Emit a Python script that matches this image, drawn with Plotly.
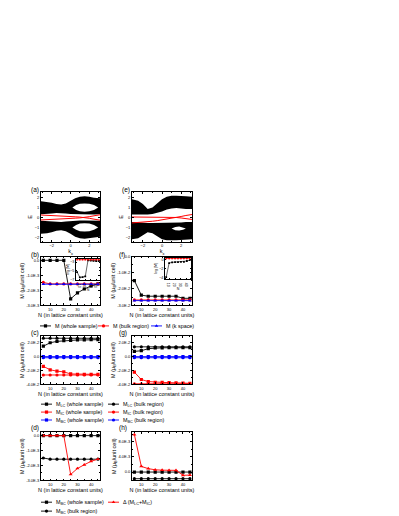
import plotly.graph_objects as go

W, H = 399, 516
FONT = "Liberation Sans, Arial, sans-serif"
BLACK, RED, BLUE = "#000000", "#ff0000", "#0000ff"

# ---------------- band structures (a) and (e): envelopes of the black bands
kx = [-3.14, -2.5, -2.0, -1.5, -1.0, -0.5, 0.0, 0.5, 1.0, 1.5, 2.0, 2.5, 3.14]

a_up_top = [1.65, 1.6, 1.5, 1.35, 1.3, 1.4, 1.65, 1.95, 2.1, 2.15, 2.1, 2.0, 1.95]
a_up_bot = [0.32, 0.36, 0.4, 0.45, 0.45, 0.4, 0.35, 0.3, 0.3, 0.3, 0.3, 0.3, 0.32]
a_lo_top = [-0.32, -0.36, -0.4, -0.45, -0.45, -0.4, -0.35, -0.3, -0.3, -0.3, -0.3, -0.3, -0.32]
a_lo_bot = [-1.65, -1.6, -1.5, -1.35, -1.3, -1.4, -1.65, -1.95, -2.1, -2.15, -2.1, -2.0, -1.95]
a_lens_kx = [0.2, 0.6, 1.0, 1.5, 2.0, 2.5, 2.95]
a_lens_up_hi = [1.0, 1.25, 1.38, 1.42, 1.38, 1.25, 1.0]
a_lens_up_lo = [1.0, 0.75, 0.62, 0.58, 0.62, 0.75, 1.0]
a_lens_lo_hi = [-1.0, -0.75, -0.62, -0.58, -0.62, -0.75, -1.0]
a_lens_lo_lo = [-1.0, -1.25, -1.38, -1.42, -1.38, -1.25, -1.0]
a_red1 = [0.25, 0.23, 0.21, 0.19, 0.16, 0.13, 0.1, 0.07, 0.04, 0.0, -0.08, -0.17, -0.27]
a_red2 = [-0.25, -0.23, -0.21, -0.19, -0.16, -0.13, -0.1, -0.07, -0.04, 0.0, 0.08, 0.17, 0.27]

e_up_top = [1.85, 1.7, 1.35, 0.85, 1.0, 1.45, 1.85, 2.1, 2.2, 2.2, 2.2, 2.15, 2.1]
e_up_bot = [0.3, 0.3, 0.3, 0.3, 0.35, 0.45, 0.6, 0.8, 0.9, 0.95, 0.9, 0.85, 0.85]
e_lo_top = [-0.45, -0.5, -0.55, -0.55, -0.55, -0.55, -0.5, -0.5, -0.5, -0.5, -0.5, -0.45, -0.45]
e_lo_bot = [-2.2, -2.1, -1.8, -1.5, -1.6, -1.9, -2.2, -2.3, -2.3, -2.3, -2.3, -2.25, -2.2]
e_hole_kx = [1.0, 1.4, 1.8, 2.2, 2.5]
e_hole_hi = [-1.1, -0.95, -0.92, -0.98, -1.1]
e_hole_lo = [-1.1, -1.28, -1.32, -1.25, -1.1]
e_red1 = [0.05, 0.05, 0.05, 0.05, 0.05, 0.04, 0.04, 0.03, 0.02, 0.0, -0.05, -0.12, -0.2]
e_red2 = [-0.55, -0.52, -0.48, -0.43, -0.38, -0.32, -0.25, -0.17, -0.1, 0.0, 0.1, 0.2, 0.3]

# ---------------- magnetization vs N
N = [5, 10, 15, 20, 25, 30, 35, 40, 45]

b_whole = [0.0, 0.0, 0.0, 0.0, -2.58e-3, -2.18e-3, -1.92e-3, -1.72e-3, -1.58e-3]
b_bulk = [-1.48e-3, -1.58e-3, -1.58e-3, -1.58e-3, -1.58e-3, -1.58e-3, -1.58e-3, -1.58e-3, -1.58e-3]
b_kspace = [-1.6e-3, -1.6e-3, -1.6e-3, -1.6e-3, -1.6e-3, -1.6e-3, -1.6e-3, -1.6e-3, -1.6e-3]
b_log_whole = [-5.3, -6.5, -6.45, -6.3, -2.6, -2.65, -2.7, -2.75, -2.78]
b_log_bulk = [-2.45, -2.45, -2.45, -2.45, -2.45, -2.45, -2.45, -2.45, -2.45]

f_whole = [-1.48e-2, -2.38e-2, -2.45e-2, -2.45e-2, -2.45e-2, -2.45e-2, -2.45e-2, -2.58e-2, -2.58e-2]
f_bulk = [-2.68e-2, -2.68e-2, -2.68e-2, -2.68e-2, -2.68e-2, -2.68e-2, -2.68e-2, -2.68e-2, -2.68e-2]
f_kspace = [-2.72e-2, -2.72e-2, -2.72e-2, -2.72e-2, -2.72e-2, -2.72e-2, -2.72e-2, -2.72e-2, -2.72e-2]
f_log_whole = [-3.8, -0.7, -0.55, -0.5, -0.5, -0.45, -0.45, -0.25, -0.05]
f_log_bulk = [0.3, 0.3, 0.3, 0.3, 0.3, 0.3, 0.3, 0.3, 0.3]

c_lc_whole = [1.5e-2, 2.0e-2, 2.2e-2, 2.3e-2, 2.35e-2, 2.4e-2, 2.4e-2, 2.45e-2, 2.45e-2]
c_lc_bulk = [2.65e-2, 2.65e-2, 2.65e-2, 2.65e-2, 2.65e-2, 2.65e-2, 2.65e-2, 2.65e-2, 2.65e-2]
c_ic_whole = [-1.4e-2, -1.9e-2, -2.1e-2, -2.2e-2, -2.5e-2, -2.55e-2, -2.55e-2, -2.55e-2, -2.55e-2]
c_ic_bulk = [-2.65e-2, -2.65e-2, -2.65e-2, -2.65e-2, -2.65e-2, -2.65e-2, -2.65e-2, -2.65e-2, -2.65e-2]
c_bc_whole = [0.0, 0.0, 0.0, 0.0, 0.0, 0.0, 0.0, 0.0, 0.0]
c_bc_bulk = [-1.6e-3, -1.6e-3, -1.6e-3, -1.6e-3, -1.6e-3, -1.6e-3, -1.6e-3, -1.6e-3, -1.6e-3]

g_lc_whole = [0.75e-2, 0.85e-2, 1.15e-2, 1.25e-2, 1.27e-2, 1.28e-2, 1.28e-2, 1.28e-2, 1.28e-2]
g_lc_bulk = [1.41e-2, 1.41e-2, 1.41e-2, 1.41e-2, 1.41e-2, 1.41e-2, 1.41e-2, 1.41e-2, 1.41e-2]
g_ic_whole = [-2.25e-2, -3.3e-2, -3.6e-2, -3.7e-2, -3.72e-2, -3.75e-2, -3.78e-2, -3.82e-2, -3.85e-2]
g_ic_bulk = [-3.92e-2, -3.92e-2, -3.92e-2, -3.92e-2, -3.92e-2, -3.92e-2, -3.92e-2, -3.92e-2, -3.92e-2]
g_bc_whole = [0.0, 0.0, 0.0, 0.0, 0.0, 0.0, 0.0, 0.0, 0.0]
g_bc_bulk = [-1.6e-3, -1.6e-3, -1.6e-3, -1.6e-3, -1.6e-3, -1.6e-3, -1.6e-3, -1.6e-3, -1.6e-3]

d_bc_whole = [0.0, 0.0, 0.0, 0.0, 0.0, 0.0, 0.0, 0.0, 0.0]
d_bc_bulk = [-1.5e-3, -1.58e-3, -1.58e-3, -1.58e-3, -1.58e-3, -1.58e-3, -1.58e-3, -1.58e-3, -1.58e-3]
d_delta = [0.0, 0.0, 0.0, 0.0, -2.6e-3, -2.2e-3, -1.95e-3, -1.72e-3, -1.58e-3]

h_bc_whole = [0.0, 0.0, 0.0, 0.0, 0.0, 0.0, 0.0, 0.0, 0.0]
h_bc_bulk = [-1.75e-3, -1.75e-3, -1.75e-3, -1.75e-3, -1.75e-3, -1.75e-3, -1.75e-3, -1.75e-3, -1.75e-3]
h_delta = [9.9e-3, 1.5e-3, 0.9e-3, 0.6e-3, 0.5e-3, 0.45e-3, 0.45e-3, -0.85e-3, -0.8e-3]

# tick labels
E_ticks = [-2, -1, 0, 1, 2]
k_ticks = [-2, 0, 2]
N_ticks = [10, 20, 30, 40]
ticks_1e3 = [0, -1e-3, -2e-3, -3e-3]
text_1e3 = ["0.0", "-1.0E-3", "-2.0E-3", "-3.0E-3"]
ticks_1e2 = [0, -1e-2, -2e-2, -3e-2]
text_1e2 = ["0.0", "-1.0E-2", "-2.0E-2", "-3.0E-2"]
ticks_2e2 = [2e-2, 0, -2e-2, -4e-2]
text_2e2 = ["2.0E-2", "0.0", "-2.0E-2", "-4.0E-2"]
ticks_4e3 = [0, 4e-3, 8e-3]
text_4e3 = ["0.0", "4.0E-3", "8.0E-3"]

fig = go.Figure()
layout = {}


def axis_style(size=4):
    return dict(showline=True, linecolor="black", linewidth=0.8, mirror="ticks",
                ticks="inside", ticklen=2, tickwidth=0.6, tickcolor="black",
                showgrid=False, zeroline=False, fixedrange=True,
                tickfont=dict(size=size, color="black", family=FONT))


def add_axes(i, xpx, ypx, xrange, yrange, xtitle="", ytitle="", tsize=4, title_size=5.5):
    sx = "xaxis" if i == 1 else "xaxis%d" % i
    sy = "yaxis" if i == 1 else "yaxis%d" % i
    xa = axis_style(tsize)
    ya = axis_style(tsize)
    xa.update(domain=[xpx[0] / W, xpx[1] / W], range=xrange, anchor="y%d" % i if i > 1 else "y",
              title=dict(text=xtitle, font=dict(size=title_size, family=FONT, color="black"), standoff=1))
    ya.update(domain=[1 - ypx[1] / H, 1 - ypx[0] / H], range=yrange, anchor="x%d" % i if i > 1 else "x",
              title=dict(text=ytitle, font=dict(size=title_size, family=FONT, color="black"), standoff=1))
    layout[sx] = xa
    layout[sy] = ya
    return ("x" if i == 1 else "x%d" % i), ("y" if i == 1 else "y%d" % i)


def band(xa, ya, xs, hi, lo, color):
    fig.add_trace(go.Scatter(x=xs + xs[::-1], y=hi + lo[::-1], mode="lines", fill="toself",
                             fillcolor=color, line=dict(width=0), xaxis=xa, yaxis=ya,
                             showlegend=False, hoverinfo="skip"))


def series(xa, ya, y, color, symbol, size=3.2, width=0.9):
    fig.add_trace(go.Scatter(x=N, y=y, mode="lines+markers", line=dict(color=color, width=width),
                             marker=dict(symbol=symbol, size=size, color=color, line=dict(width=0)),
                             xaxis=xa, yaxis=ya, showlegend=False))


def minor(step):
    return dict(ticks="inside", ticklen=1.2, dtick=step, tick0=0, tickcolor="black")


LX = [33, 92]
RX = [124, 184]
NR = [3.3, 46.5]
ER = [-2.45, 2.55]
MTITLE = "M (\u03bc<sub>B</sub>/unit cell)"
NTITLE = "N (in lattice constant units)"

# (a)
xa, ya = add_axes(1, LX, [183, 233], [-3.14, 3.14], ER, "k<sub>x</sub>", "E")
band(xa, ya, kx, a_up_top, a_up_bot, BLACK)
band(xa, ya, kx, a_lo_top, a_lo_bot, BLACK)
band(xa, ya, a_lens_kx, a_lens_up_hi, a_lens_up_lo, "white")
band(xa, ya, a_lens_kx, a_lens_lo_hi, a_lens_lo_lo, "white")
for r in (a_red1, a_red2):
    fig.add_trace(go.Scatter(x=kx, y=r, mode="lines", line=dict(color=RED, width=1),
                             xaxis=xa, yaxis=ya, showlegend=False))
layout["xaxis"].update(tickvals=k_ticks, minor=minor(1))
layout["yaxis"].update(tickvals=E_ticks)

# (e)
xa, ya = add_axes(2, RX, [183, 233], [-3.14, 3.14], ER, "k<sub>x</sub>", "E")
band(xa, ya, kx, e_up_top, e_up_bot, BLACK)
band(xa, ya, kx, e_lo_top, e_lo_bot, BLACK)
band(xa, ya, e_hole_kx, e_hole_hi, e_hole_lo, "white")
for r in (e_red1, e_red2):
    fig.add_trace(go.Scatter(x=kx, y=r, mode="lines", line=dict(color=RED, width=1),
                             xaxis=xa, yaxis=ya, showlegend=False))
layout["xaxis2"].update(tickvals=k_ticks, minor=minor(1))
layout["yaxis2"].update(tickvals=E_ticks)

# (b)
xa, ya = add_axes(3, LX, [248, 297], NR, [-3.0e-3, 0.25e-3], NTITLE, MTITLE)
series(xa, ya, b_whole, BLACK, "square")
series(xa, ya, b_bulk, RED, "circle")
series(xa, ya, b_kspace, BLUE, "triangle-up")
layout["xaxis3"].update(tickvals=N_ticks, minor=minor(5))
layout["yaxis3"].update(tickvals=ticks_1e3, ticktext=text_1e3, minor=minor(0.5e-3))

# (f)
xa, ya = add_axes(4, RX, [248, 297], NR, [-3.0e-2, 0.0], NTITLE, MTITLE)
series(xa, ya, f_whole, BLACK, "square")
series(xa, ya, f_bulk, RED, "circle")
series(xa, ya, f_kspace, BLUE, "triangle-up")
layout["xaxis4"].update(tickvals=N_ticks, minor=minor(5))
layout["yaxis4"].update(tickvals=ticks_1e2, ticktext=text_1e2, minor=minor(0.5e-2))

# (c)
xa, ya = add_axes(5, LX, [328, 377], NR, [-4.0e-2, 3.0e-2], NTITLE, MTITLE)
series(xa, ya, c_lc_whole, BLACK, "square")
series(xa, ya, c_lc_bulk, BLACK, "circle")
series(xa, ya, c_ic_whole, RED, "square")
series(xa, ya, c_ic_bulk, RED, "circle")
series(xa, ya, c_bc_whole, BLUE, "square")
series(xa, ya, c_bc_bulk, BLUE, "circle")
layout["xaxis5"].update(tickvals=N_ticks, minor=minor(5))
layout["yaxis5"].update(tickvals=ticks_2e2, ticktext=text_2e2, minor=minor(1e-2))

# (g)
xa, ya = add_axes(6, RX, [328, 377], NR, [-4.0e-2, 3.0e-2], NTITLE, MTITLE)
series(xa, ya, g_lc_whole, BLACK, "square")
series(xa, ya, g_lc_bulk, BLACK, "circle")
series(xa, ya, g_ic_whole, RED, "square")
series(xa, ya, g_ic_bulk, RED, "circle")
series(xa, ya, g_bc_whole, BLUE, "square")
series(xa, ya, g_bc_bulk, BLUE, "circle")
layout["xaxis6"].update(tickvals=N_ticks, minor=minor(5))
layout["yaxis6"].update(tickvals=ticks_2e2, ticktext=text_2e2, minor=minor(1e-2))

# (d)
xa, ya = add_axes(7, LX, [425, 474], NR, [-3.0e-3, 0.25e-3], NTITLE, MTITLE)
series(xa, ya, d_bc_whole, BLACK, "square")
series(xa, ya, d_bc_bulk, BLACK, "circle")
series(xa, ya, d_delta, RED, "triangle-up", size=3.6)
layout["xaxis7"].update(tickvals=N_ticks, minor=minor(5))
layout["yaxis7"].update(tickvals=ticks_1e3, ticktext=text_1e3, minor=minor(0.5e-3))

# (h)
xa, ya = add_axes(8, RX, [425, 474], NR, [-2.2e-3, 10.6e-3], NTITLE, MTITLE)
series(xa, ya, h_bc_whole, BLACK, "square")
series(xa, ya, h_bc_bulk, BLACK, "circle")
series(xa, ya, h_delta, RED, "triangle-up", size=3.6)
layout["xaxis8"].update(tickvals=N_ticks, minor=minor(5))
layout["yaxis8"].update(tickvals=ticks_4e3, ticktext=text_4e3, minor=minor(2e-3))

# insets in (b) and (f)
xa, ya = add_axes(9, [68, 92], [250, 272], [3, 47], [-7.2, -2.2], "N", "log |M|", tsize=3.6, title_size=3.6)
series(xa, ya, b_log_whole, BLACK, "square", size=1.8, width=0.6)
series(xa, ya, b_log_bulk, RED, "circle", size=1.8, width=0.6)
layout["xaxis9"].update(tickvals=N_ticks, ticklen=1)
layout["yaxis9"].update(tickvals=[-3, -5, -7], ticklen=1)

xa, ya = add_axes(10, [157, 183], [249, 271], [3, 47], [-4.3, 0.5], "N", "log |M|", tsize=3.6, title_size=3.6)
series(xa, ya, f_log_whole, BLACK, "square", size=1.8, width=0.6)
series(xa, ya, f_log_bulk, RED, "circle", size=1.8, width=0.6)
layout["xaxis10"].update(tickvals=N_ticks, ticklen=1)
layout["yaxis10"].update(tickvals=[0, -2, -4], ticklen=1)

# legend keys drawn on a hidden pixel-scaled overlay axis
layout["xaxis11"] = dict(domain=[0, 1], range=[0, W], visible=False, fixedrange=True, anchor="y11")
layout["yaxis11"] = dict(domain=[0, 1], range=[H, 0], visible=False, fixedrange=True, anchor="x11")

legend_items = [
    # (x of key, y, color, symbol, label)
    (32, 318, BLACK, "square", "M (whole sample)"),
    (90, 318, RED, "circle", "M (bulk region)"),
    (143, 318, BLUE, "triangle-up", "M (k space)"),
    (33, 397, BLACK, "square", "M<sub>LC</sub> (whole sample)"),
    (100, 397, BLACK, "circle", "M<sub>LC</sub> (bulk region)"),
    (33, 405, RED, "square", "M<sub>IC</sub> (whole sample)"),
    (100, 405, RED, "circle", "M<sub>IC</sub> (bulk region)"),
    (33, 413, BLUE, "square", "M<sub>BC</sub> (whole sample)"),
    (100, 413, BLUE, "circle", "M<sub>BC</sub> (bulk region)"),
    (33, 496, BLACK, "square", "M<sub>BC</sub> (whole sample)"),
    (100, 496, RED, "triangle-up", "\u0394 (M<sub>LC</sub>+M<sub>IC</sub>)"),
    (33, 505, BLACK, "circle", "M<sub>BC</sub> (bulk region)"),
]
annotations = []
for x0, y0, col, sym, label in legend_items:
    fig.add_trace(go.Scatter(x=[x0, x0 + 11], y=[y0, y0], mode="lines", line=dict(color=col, width=0.9),
                             xaxis="x11", yaxis="y11", showlegend=False, hoverinfo="skip"))
    fig.add_trace(go.Scatter(x=[x0 + 5.5], y=[y0], mode="markers",
                             marker=dict(symbol=sym, size=3.2, color=col, line=dict(width=0)),
                             xaxis="x11", yaxis="y11", showlegend=False, hoverinfo="skip"))
    annotations.append(dict(x=x0 + 13, y=y0, xref="x11", yref="y11", text=label, showarrow=False,
                            xanchor="left", yanchor="middle", font=dict(size=5.4, family=FONT, color=BLACK)))

panel_labels = [("(a)", 27, 181), ("(e)", 118, 181), ("(b)", 27, 246), ("(f)", 114, 246),
                ("(c)", 27, 325), ("(g)", 115, 325), ("(d)", 27, 421), ("(h)", 115, 421)]
for t, x0, y0 in panel_labels:
    annotations.append(dict(x=x0, y=y0, xref="x11", yref="y11", text=t, showarrow=False,
                            xanchor="center", yanchor="middle", font=dict(size=6.5, family=FONT, color=BLACK)))

fig.update_layout(**layout)
fig.update_layout(width=W, height=H, margin=dict(l=0, r=0, t=0, b=0, pad=0),
                  paper_bgcolor="white", plot_bgcolor="rgba(0,0,0,0)", showlegend=False,
                  annotations=annotations, font=dict(family=FONT, color=BLACK))

fig.write_html("out.html", config={"displayModeBar": False})
